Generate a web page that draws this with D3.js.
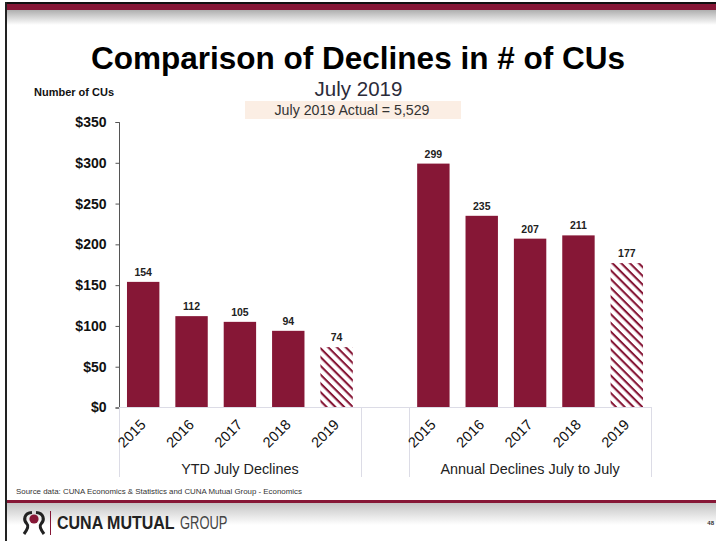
<!DOCTYPE html>
<html>
<head>
<meta charset="utf-8">
<script src="https://d3js.org/d3.v7.min.js"></script>
<style>
html,body{margin:0;padding:0;background:#fff;overflow:hidden}
svg{display:block}
text{font-family:"Liberation Sans",Arial,sans-serif}
</style>
</head>
<body>
<svg id="chart" width="716" height="541"></svg>
<script>
// Credit union decline counts, grouped by period
const years = ["2015", "2016", "2017", "2018", "2019"];
const ytdDeclines = [154, 112, 105, 94, 74];
const annualDeclines = [299, 235, 207, 211, 177];
const yTicks = [0, 50, 100, 150, 200, 250, 300, 350];
const groupLabels = ["YTD July Declines", "Annual Declines July to July"];
const projectedYear = "2019";

const maroon = "#861736";
const svg = d3.select("#chart");
const defs = svg.append("defs");

// Slide furniture: soft shadows under the maroon rules
const fade = (id, from, to) => {
  const g = defs.append("linearGradient").attr("id", id)
    .attr("x1", 0).attr("y1", 0).attr("x2", 0).attr("y2", 1);
  g.append("stop").attr("offset", 0).attr("stop-color", from);
  g.append("stop").attr("offset", 1).attr("stop-color", to);
};
fade("topShade", "#a9a9a9", "#ffffff");
fade("footShade", "#c4c4c4", "#ffffff");

const hatchSize = 6.2;
const hatch = defs.append("pattern").attr("id", "hatch")
  .attr("patternUnits", "userSpaceOnUse")
  .attr("width", hatchSize).attr("height", hatchSize)
  .attr("patternTransform", "rotate(45)");
hatch.append("rect").attr("width", hatchSize).attr("height", hatchSize).attr("fill", "#fff");
hatch.append("rect").attr("width", hatchSize).attr("height", 2.1).attr("fill", maroon);

svg.append("rect").attr("x", 0).attr("y", 0).attr("width", 716).attr("height", 541).attr("fill", "#fff");
svg.append("rect").attr("x", 6).attr("y", 9).attr("width", 710).attr("height", 16).attr("fill", "url(#topShade)");
svg.append("rect").attr("x", 6).attr("y", 4).attr("width", 710).attr("height", 6).attr("fill", maroon);
svg.append("rect").attr("x", 5).attr("y", 2).attr("width", 711).attr("height", 2).attr("fill", "#111");
svg.append("rect").attr("x", 5).attr("y", 2).attr("width", 2).attr("height", 539).attr("fill", "#222");
svg.append("rect").attr("x", 7).attr("y", 503).attr("width", 709).attr("height", 22).attr("fill", "url(#footShade)");
svg.append("rect").attr("x", 7).attr("y", 500).attr("width", 709).attr("height", 3).attr("fill", maroon);

// Headings
svg.append("text").attr("x", 358).attr("y", 69).attr("text-anchor", "middle")
  .attr("font-size", 31.5).attr("font-weight", 700).attr("fill", "#000")
  .text("Comparison of Declines in # of CUs");
svg.append("text").attr("x", 358.5).attr("y", 96).attr("text-anchor", "middle")
  .attr("font-size", 20.5).attr("fill", "#2b2b3a").text("July 2019");
svg.append("rect").attr("x", 245).attr("y", 101).attr("width", 216).attr("height", 18).attr("fill", "#fbeee4");
svg.append("text").attr("x", 352).attr("y", 115).attr("text-anchor", "middle")
  .attr("font-size", 14.2).attr("fill", "#333").text("July 2019 Actual = 5,529");
svg.append("text").attr("x", 34).attr("y", 96)
  .attr("font-size", 11).attr("font-weight", 700).attr("fill", "#111").text("Number of CUs");

// Scales: eleven equal slots, the sixth left empty between the two groups
const slots = [
  ...years.map(y => "a" + y), "gap", ...years.map(y => "b" + y)
];
const x = d3.scaleBand().domain(slots).range([119, 651]).paddingInner(0.33).paddingOuter(0.165);
const y = d3.scaleLinear().domain([0, 350]).range([407.5, 122]);

const rows = [
  ...years.map((yr, i) => ({ key: "a" + yr, year: yr, value: ytdDeclines[i] })),
  ...years.map((yr, i) => ({ key: "b" + yr, year: yr, value: annualDeclines[i] }))
];

// Value axis
const yAxis = svg.append("g").attr("transform", "translate(119.5,0)")
  .call(d3.axisLeft(y).tickValues(yTicks).tickSize(4).tickPadding(9).tickFormat(d => "$" + d));
yAxis.selectAll("path,line").attr("stroke", "#555");
yAxis.select(".domain").attr("d", "M-4,122.5H0V408H-4");
yAxis.selectAll("text").attr("font-size", 14).attr("font-weight", 700)
  .attr("font-family", '"Liberation Sans",Arial,sans-serif').attr("fill", "#111");

// Bars
svg.append("g").selectAll("rect").data(rows).join("rect")
  .attr("x", d => x(d.key))
  .attr("y", d => y(d.value))
  .attr("width", x.bandwidth())
  .attr("height", d => y(0) - y(d.value))
  .attr("fill", d => d.year === projectedYear ? "url(#hatch)" : maroon);

// Value labels
svg.append("g").selectAll("text").data(rows).join("text")
  .attr("x", d => x(d.key) + x.bandwidth() / 2)
  .attr("y", d => y(d.value) - 6)
  .attr("text-anchor", "middle").attr("font-size", 10.5).attr("font-weight", 700).attr("fill", "#222")
  .text(d => d.value);

// Category axis line with group dividers
const edge = i => 119 + (651 - 119) / 11 * i;
const axisG = svg.append("g");
axisG.append("line").attr("x1", 119).attr("x2", 651).attr("y1", 407.5).attr("y2", 407.5).attr("stroke", "#dcdce6");
[0, 5, 6, 11].forEach(i => {
  axisG.append("line").attr("x1", Math.round(edge(i)) + 0.5).attr("x2", Math.round(edge(i)) + 0.5)
    .attr("y1", 407).attr("y2", 477).attr("stroke", "#dcdce6");
});

// Rotated year labels
svg.append("g").selectAll("text").data(rows).join("text")
  .attr("text-anchor", "middle").attr("font-size", 14.5).attr("fill", "#111")
  .attr("transform", d => `translate(${x(d.key) + x.bandwidth() / 2 - 8},${437}) rotate(-45)`)
  .text(d => d.year);

// Group captions
svg.append("g").selectAll("text").data(groupLabels).join("text")
  .attr("x", (d, i) => i === 0 ? (edge(0) + edge(5)) / 2 : (edge(6) + edge(11)) / 2)
  .attr("y", 474).attr("text-anchor", "middle").attr("font-size", 14.4).attr("fill", "#222")
  .text(d => d);

// Footer
svg.append("text").attr("x", 16).attr("y", 494).attr("font-size", 7.9).attr("fill", "#333")
  .text("Source data: CUNA Economics & Statistics and CUNA Mutual Group - Economics");
svg.append("text").attr("x", 714).attr("y", 525).attr("text-anchor", "end")
  .attr("font-size", 6).attr("font-weight", 700).attr("fill", "#333").text("48");

// Company mark and wordmark, squeezed horizontally to the logotype's proportions
const mark = svg.append("g").attr("transform", "translate(34,525)");
mark.append("circle").attr("cx", 0).attr("cy", -6).attr("r", 4.6).attr("fill", maroon);
mark.append("path").attr("fill", "none").attr("stroke", "#222").attr("stroke-width", 3)
  .attr("d", "M-2,-12.5 C-10,-12 -11,-5 -7,-1 C-5,1 -7,5 -10,9 M2,-12.5 C10,-12 11,-5 7,-1 C5,1 7,5 10,9");
svg.append("line").attr("x1", 50.5).attr("x2", 50.5).attr("y1", 511).attr("y2", 535).attr("stroke", maroon);
svg.append("text").attr("transform", "translate(57,529) scale(0.89,1)").attr("font-size", 18).attr("font-weight", 700)
  .attr("fill", "#222").text("CUNA MUTUAL");
svg.append("text").attr("transform", "translate(180,529) scale(0.72,1)").attr("font-size", 18)
  .attr("fill", "#444").text("GROUP");
</script>
</body>
</html>
